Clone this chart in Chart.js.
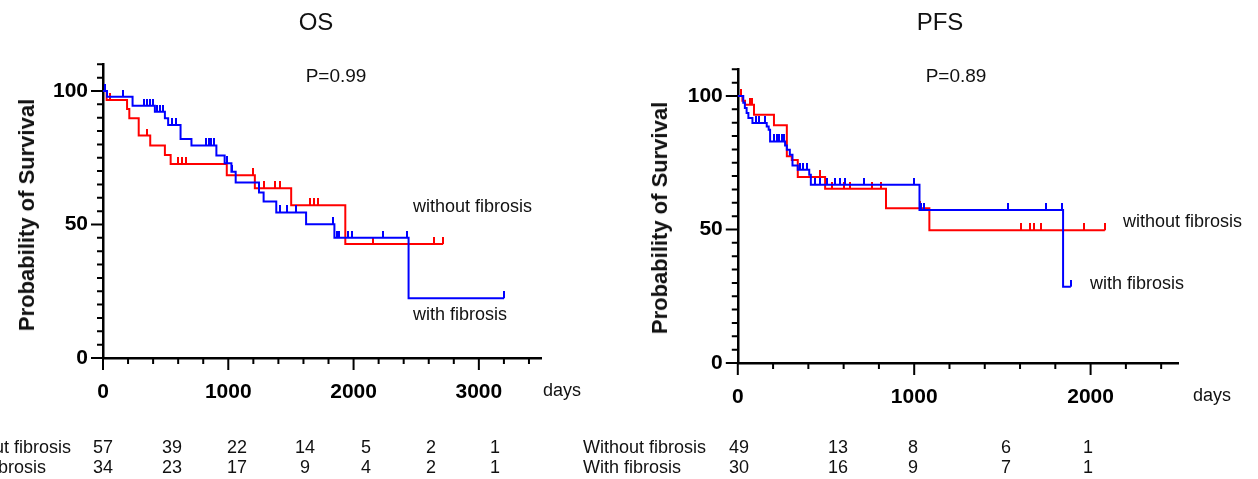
<!DOCTYPE html>
<html><head><meta charset="utf-8">
<script src="https://cdn.jsdelivr.net/npm/chart.js@4.4.0/dist/chart.umd.min.js"></script>
<style>
html,body{margin:0;padding:0;background:#fff;width:1258px;height:479px;overflow:hidden;}
#wrap{position:relative;width:1258px;height:479px;font-family:"Liberation Sans",Arial,Helvetica,sans-serif;color:#111;}
canvas{position:absolute;top:0;}
.t{position:absolute;white-space:nowrap;line-height:1;}
</style></head><body><div id="wrap">
<canvas id="os" width="629" height="479" style="left:0"></canvas>
<canvas id="pfs" width="629" height="479" style="left:629px"></canvas>
</div>
<script>
// ---------- DATA ----------
const osWithoutTimes = [0, 29, 192, 210, 285, 377, 494, 540, 988, 1212, 1502, 1934];
const osWithoutSurv  = [100, 96.6, 93.3, 89.8, 83.3, 79.6, 76.0, 72.7, 68.4, 63.6, 57.2, 42.7];
const osWithoutCensor = [56, 353, 600, 634, 666, 1197, 1282, 1369, 1409, 1653, 1688, 1714, 2158, 2643, 2715];

const osWithTimes = [0, 32, 236, 414, 494, 520, 619, 706, 905, 971, 1025, 1059, 1245, 1282, 1383, 1621, 1847, 2439];
const osWithSurv  = [100, 97.8, 94.5, 92.2, 89.8, 87.3, 82.0, 79.6, 75.8, 72.9, 69.8, 65.7, 62.0, 58.6, 54.5, 50.1, 45.0, 22.4];
const osWithCensor = [12, 157, 326, 348, 374, 396, 432, 454, 475, 547, 581, 820, 845, 865, 885, 990, 1032, 1409, 1470, 1542, 1839, 1866, 1882, 1953, 1988, 2237, 2423, 3201];

const pfsWithoutTimes = [0, 26, 41, 92, 205, 278, 306, 340, 495, 840, 1086];
const pfsWithoutSurv  = [100, 98.2, 96.7, 93.0, 89.0, 77.4, 76.0, 69.7, 65.3, 58.0, 49.7];
const pfsWithoutCensor = [18, 69, 79, 467, 533, 603, 638, 761, 814, 1035, 1603, 1656, 1679, 1717, 1963, 2081];

const pfsWithTimes = [0, 31, 40, 50, 60, 83, 164, 175, 183, 268, 278, 295, 310, 340, 405, 414, 1030, 1844];
const pfsWithSurv  = [100, 97.5, 95.5, 93.6, 91.8, 89.9, 88.6, 87.4, 83.0, 81.5, 79.9, 78.0, 74.0, 72.4, 70.5, 66.8, 57.3, 28.6];
const pfsWithCensor = [101, 120, 155, 208, 221, 234, 249, 264, 353, 370, 390, 439, 467, 505, 550, 580, 609, 713, 1001, 1039, 1054, 1531, 1749, 1840, 1888];

const yTicks = [0,5,10,15,20,25,30,35,40,45,50,55,60,65,70,75,80,85,90,95,100,105,110];
const yTickLabels = [0, 50, 100];
const osXTicks = [0,200,400,600,800,1000,1200,1400,1600,1800,2000,2200,2400,2600,2800,3000,3200,3400];
const osXTickLabels = [0, 1000, 2000, 3000];
const pfsXTicks = [0,200,400,600,800,1000,1200,1400,1600,1800,2000,2200,2400];
const pfsXTickLabels = [0, 1000, 2000];

const osRiskWithout = [57, 39, 22, 14, 5, 2, 1];
const osRiskWith    = [34, 23, 17, 9, 4, 2, 1];
const pfsRiskWithout = [49, 13, 8, 6, 1];
const pfsRiskWith    = [30, 16, 9, 7, 1];

// ---------- HELPERS ----------
const FONT = '"Liberation Sans", Arial, Helvetica, sans-serif';
const RED = '#ff0000', BLUE = '#0000ff';

function levelAt(times, surv, t) {
  let s = surv[0];
  for (let i = 0; i < times.length; i++) if (times[i] <= t) s = surv[i];
  return s;
}
function stepPoints(times, surv, censor) {
  const pts = times.map((t, i) => ({x: t, y: surv[i]}));
  const end = Math.max(...censor);
  if (end > times[times.length - 1]) pts.push({x: end, y: surv[surv.length - 1]});
  return pts;
}
function censorPoints(times, surv, censor) {
  return censor.map(t => ({x: t, y: levelAt(times, surv, t)}));
}
function tickImg(color) {
  const c = document.createElement('canvas');
  c.width = 2; c.height = 14;
  const g = c.getContext('2d');
  g.fillStyle = color; g.fillRect(0, 0, 2, 7);
  return c;
}

const axisTicks = {
  id: 'axisTicks',
  afterDraw(chart, args, o) {
    const {ctx, chartArea: a, scales: {x, y}} = chart;
    ctx.save();
    ctx.strokeStyle = '#000'; ctx.lineWidth = 2;
    ctx.beginPath();
    o.yTicks.forEach(v => {
      const p = y.getPixelForValue(v);
      const len = o.yMajor.includes(v) ? 12 : 6;
      ctx.moveTo(a.left - len, p); ctx.lineTo(a.left, p);
    });
    o.xTicks.forEach(v => {
      const p = x.getPixelForValue(v);
      const len = o.xMajor.includes(v) ? 12 : 6;
      ctx.moveTo(p, a.bottom); ctx.lineTo(p, a.bottom + len);
    });
    ctx.stroke();
    ctx.restore();
  }
};

function makeChart(id, g) {
  const lineDs = (times, surv, censor, color) => ({
    data: stepPoints(times, surv, censor), borderColor: color, borderWidth: 2,
    pointRadius: 0, stepped: 'before', fill: false, tension: 0
  });
  const censDs = (times, surv, censor, color) => ({
    data: censorPoints(times, surv, censor), showLine: false,
    pointStyle: tickImg(color), pointRadius: 3, borderColor: color, backgroundColor: color
  });
  return new Chart(document.getElementById(id), {
    type: 'line',
    data: {
      datasets: [
        lineDs(g.wT, g.wS, g.wC, BLUE),
        censDs(g.wT, g.wS, g.wC, BLUE),
        lineDs(g.woT, g.woS, g.woC, RED),
        censDs(g.woT, g.woS, g.woC, RED)
      ]
    },
    options: {
      responsive: false, animation: false, devicePixelRatio: 1,
      layout: {padding: {left: 0, right: g.padR, top: g.padT, bottom: 0}},
      plugins: {
        legend: {display: false}, tooltip: {enabled: false},
        axisTicks: {yTicks: yTicks, yMajor: yTickLabels, xTicks: g.xTicks, xMajor: g.xLabels}
      },
      scales: {
        x: {
          type: 'linear', min: 0, max: g.xMax,
          grid: {display: false},
          border: {display: true, color: '#000', width: 2.5},
          ticks: {
            stepSize: 200, includeBounds: false, autoSkip: false, maxRotation: 0,
            color: '#000', padding: 14, font: {family: FONT, size: 21, weight: 'bold'},
            callback: v => g.xLabels.includes(v) ? String(v) : ''
          },
          afterFit: s => { s.height = g.xH; s.paddingLeft = 0; s.paddingRight = 0; }
        },
        y: {
          type: 'linear', min: 0, max: 110,
          grid: {display: false},
          border: {display: true, color: '#000', width: 2.5},
          ticks: {
            stepSize: 5, autoSkip: false, color: '#000', padding: 7,
            font: {family: FONT, size: 21, weight: 'bold'},
            callback: v => yTickLabels.includes(v) ? String(v) : ''
          },
          afterFit: s => { s.width = g.yW; s.paddingTop = 0; s.paddingBottom = 0; }
        }
      }
    },
    plugins: [axisTicks]
  });
}

makeChart('os', {
  wT: osWithTimes, wS: osWithSurv, wC: osWithCensor,
  woT: osWithoutTimes, woS: osWithoutSurv, woC: osWithoutCensor,
  xMax: 3500, xTicks: osXTicks, xLabels: osXTickLabels,
  yW: 103, xH: 121, padR: 87.5, padT: 64.3
});
makeChart('pfs', {
  wT: pfsWithTimes, wS: pfsWithSurv, wC: pfsWithCensor,
  woT: pfsWithoutTimes, woS: pfsWithoutSurv, woC: pfsWithoutCensor,
  xMax: 2500, xTicks: pfsXTicks, xLabels: pfsXTickLabels,
  yW: 108.8, xH: 116, padR: 79.2, padT: 69.3
});

// ---------- TEXT ----------
const wrap = document.getElementById('wrap');
function txt(s, x, y, size, opts = {}) {
  const d = document.createElement('div');
  d.className = 't';
  d.textContent = s;
  d.style.fontSize = size + 'px';
  if (opts.bold) d.style.fontWeight = 'bold';
  d.style.left = x + 'px'; d.style.top = y + 'px';
  const tx = opts.align === 'center' ? '-50%' : (opts.align === 'right' ? '-100%' : '0');
  d.style.transform = `translate(${tx}, -50%)`;
  if (opts.rot) { d.style.transform = `translate(-50%, -50%) rotate(${opts.rot}deg)`; }
  wrap.appendChild(d);
  return d;
}
txt('OS', 316, 22, 24, {align: 'center'});
txt('PFS', 940, 22, 24, {align: 'center'});
txt('P=0.99', 336, 75, 19, {align: 'center'});
txt('P=0.89', 956, 75, 19, {align: 'center'});
txt('Probability of Survival', 27, 215, 22, {bold: true, rot: -90});
txt('Probability of Survival', 660, 218, 22, {bold: true, rot: -90});
txt('without fibrosis', 413, 206, 18);
txt('with fibrosis', 413, 314, 18);
txt('without fibrosis', 1123, 221, 18);
txt('with fibrosis', 1090, 283, 18);
txt('days', 543, 390, 18);
txt('days', 1193, 395, 18);

const osRiskX = [103, 172, 237, 305, 366, 431, 495];
const pfsRiskX = [739, 838, 913, 1006, 1088];
txt('Without fibrosis', -52, 447, 18);
txt('With fibrosis', -52, 467, 18);
osRiskWithout.forEach((v, i) => txt(String(v), osRiskX[i], 447, 18, {align: 'center'}));
osRiskWith.forEach((v, i) => txt(String(v), osRiskX[i], 467, 18, {align: 'center'}));
txt('Without fibrosis', 583, 447, 18);
txt('With fibrosis', 583, 467, 18);
pfsRiskWithout.forEach((v, i) => txt(String(v), pfsRiskX[i], 447, 18, {align: 'center'}));
pfsRiskWith.forEach((v, i) => txt(String(v), pfsRiskX[i], 467, 18, {align: 'center'}));
</script>
</body></html>
